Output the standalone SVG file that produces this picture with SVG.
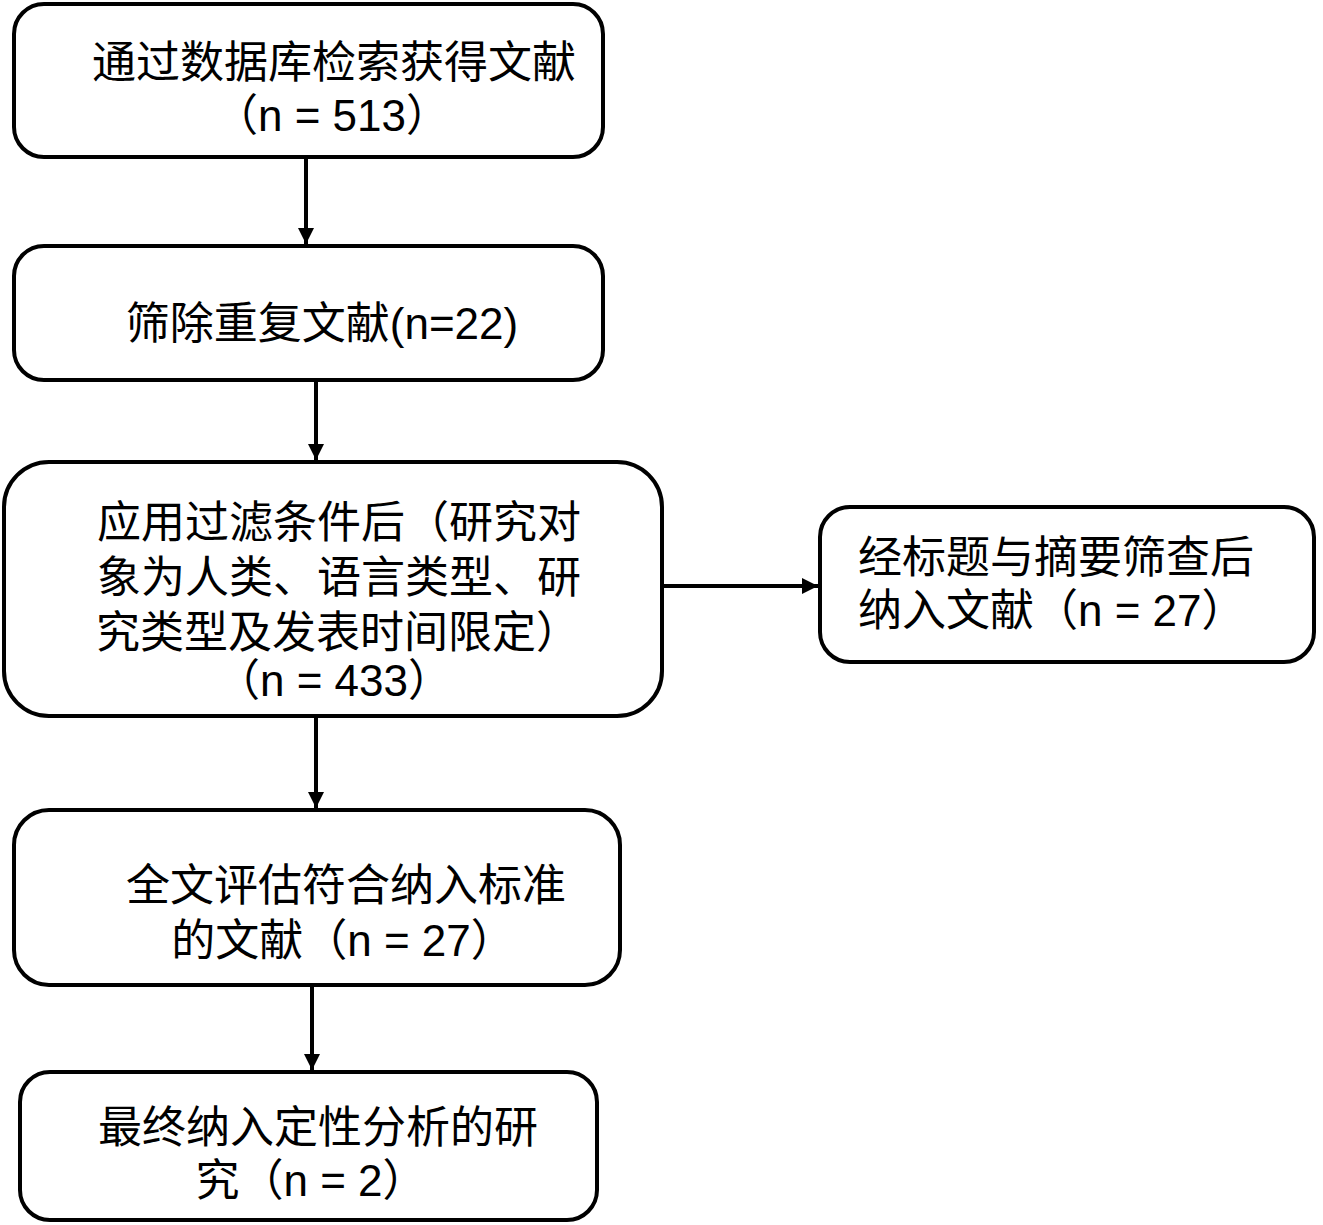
<svg xmlns="http://www.w3.org/2000/svg" width="1323" height="1225" viewBox="0 0 1323 1225">
<style>
.box{fill:#fff;stroke:#000;stroke-width:4}
.t{font-family:"Liberation Sans","Noto Sans CJK SC",sans-serif;font-size:44px;fill:#000;text-anchor:middle}
.s{text-anchor:start}
.c{stroke:#000;stroke-width:4;fill:none}
</style>
<defs>
<marker id="ah" viewBox="0 0 10 10" refX="10" refY="5" markerWidth="4" markerHeight="4" orient="auto" markerUnits="strokeWidth">
<path d="M0,0 L10,5 L0,10 z" fill="#000"/>
</marker>
</defs>
<rect width="1323" height="1225" fill="#fff"/>
<g id="n1"><rect class="box" x="14" y="4" width="589" height="153" rx="30"/>
<text class="t" x="334" y="78">通过数据库检索获得文献</text>
<text class="t" x="332" y="131">（n = 513）</text></g>
<g id="n2"><rect class="box" x="14" y="246" width="589" height="134" rx="30"/>
<text class="t" x="322" y="339">筛除重复文献(n=22)</text></g>
<g id="n3"><rect class="box" x="4" y="462" width="658" height="254" rx="45"/>
<text class="t" x="339" y="538">应用过滤条件后（研究对</text>
<text class="t" x="339" y="593">象为人类、语言类型、研</text>
<text class="t" x="338" y="648">究类型及发表时间限定）</text>
<text class="t" x="334" y="696">（n = 433）</text></g>
<g id="n4"><rect class="box" x="820" y="507" width="494" height="155" rx="30"/>
<text class="t s" x="858" y="573">经标题与摘要筛查后</text>
<text class="t s" x="858" y="626">纳入文献（n = 27）</text></g>
<g id="n5"><rect class="box" x="14" y="810" width="606" height="175" rx="35"/>
<text class="t" x="346" y="901">全文评估符合纳入标准</text>
<text class="t" x="343" y="956">的文献（n = 27）</text></g>
<g id="n6"><rect class="box" x="20" y="1072" width="577" height="148" rx="30"/>
<text class="t" x="318" y="1143">最终纳入定性分析的研</text>
<text class="t" x="311" y="1196">究（n = 2）</text></g>
<g id="connectors">
<line class="c" x1="306" y1="157" x2="306" y2="244" marker-end="url(#ah)"/>
<line class="c" x1="316" y1="380" x2="316" y2="460" marker-end="url(#ah)"/>
<line class="c" x1="316" y1="716" x2="316" y2="808" marker-end="url(#ah)"/>
<line class="c" x1="312" y1="985" x2="312" y2="1070" marker-end="url(#ah)"/>
<line class="c" x1="662" y1="586" x2="818" y2="586" marker-end="url(#ah)"/>
</g>
</svg>
